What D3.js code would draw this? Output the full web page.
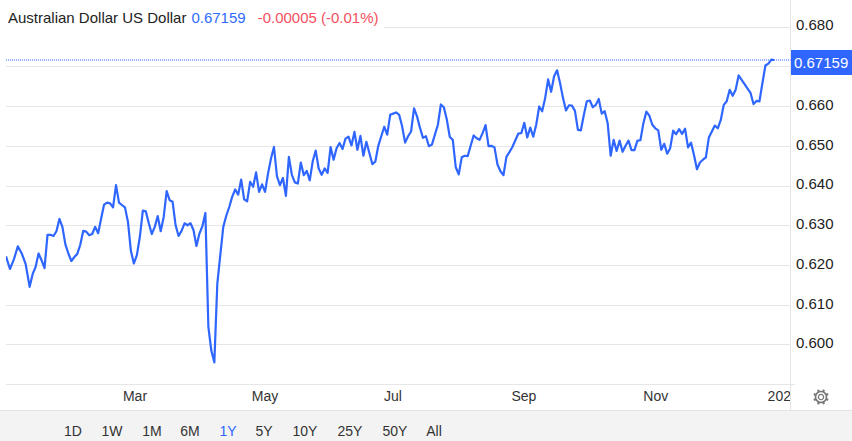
<!DOCTYPE html>
<html><head><meta charset="utf-8">
<script src="https://cdnjs.cloudflare.com/ajax/libs/d3/7.8.5/d3.min.js"></script>
<style>html,body{margin:0;padding:0;background:#fff}svg{display:block}text{font-family:"Liberation Sans",Arial,sans-serif}</style>
</head><body><svg id="c" width="852" height="441"></svg>
<script>
const title = "Australian Dollar US Dollar";
const lastPrice = 0.67159;
const changeText = "-0.00005 (-0.01%)";
const yTicks = [0.60,0.61,0.62,0.63,0.64,0.65,0.66,0.67,0.68];
const yHiddenLabels = [0.67];
const xTickDates = ["2024-03-01","2024-05-01","2024-07-01","2024-09-01","2024-11-01","2025-01-01"];
const xTickLabels = ["Mar","May","Jul","Sep","Nov","2025"];
const ranges = ["1D","1W","1M","6M","1Y","5Y","10Y","25Y","50Y","All"];
const activeRange = "1Y";
const q1 = [.6222,.6190,.6214,.6247,.6229,.6202,.6145,.6177,.6195,.6229,.6212,.6192,.6276,.6276,.6273,.6285,.6316,.6296,.6252,.6229,.6210,.6220,.6228,.6251,.6286,.6284,.6275,.6278,.6296,.6280,.6317,.6352,.6357,.6355,.6345,.6401,.6357,.6351,.6345,.6309,.6235,.6204,.6225,.6271,.6337,.6335,.6305,.6278,.6296,.6323,.6285,.6321,.6386,.6363,.6359,.6300,.6273,.6286,.6305,.6300,.6305,.6288,.6248,.6279,.6298,.6331];
const q2a = [.6044,.5984,.5955,.6153,.6225,.6296,.6324,.6346,.6372,.6390,.6377,.6415,.6365,.6360,.6409,.6397,.6433,.6384,.6403,.6384,.6430,.6468,.6497,.6423,.6401,.6419];
const q2b = [.6374,.6472,.6427,.6408,.6405,.6458,.6426,.6437,.6413,.6461,.6488,.6443,.6427,.6443,.6432,.6497,.6465,.6494,.6507,.6492,.6518,.6523,.6501,.6535,.6490,.6525,.6475,.6510,.6482,.6454,.6460,.6500,.6524,.6548,.6528,.6578,.6581,.6584,.6578,.6549,.6508,.6524,.6536,.6594,.6574,.6545,.6520,.6524,.6499,.6503,.6528,.6553,.6604,.6597,.6566,.6522,.6515,.6446,.6428,.6471,.6475,.6474,.6500,.6526,.6519,.6515,.6532,.6552,.6499,.6500,.6496,.6453,.6436,.6426,.6472,.6484,.6497,.6514,.6531,.6532,.6558,.6521,.6546,.6523,.6553,.6599,.6587,.6620,.6667,.6636,.6675,.6690,.6658,.6620,.6589];
const q3 = [.6602,.6601,.6588,.6540,.6539,.6578,.6612,.6614,.6597,.6603,.6618,.6581,.6587,.6557,.6475,.6515,.6487,.6513,.6485,.6500,.6513,.6489,.6489,.6513,.6514,.6557,.6586,.6576,.6553,.6544,.6539,.6490,.6505,.6480,.6494,.6538,.6529,.6542,.6530,.6543,.6496,.6508,.6477,.6441,.6458,.6465,.6471,.6521,.6536,.6551,.6544,.6565,.6603,.6612,.6641,.6626,.6641,.6677,.6666,.6655,.6644,.6633,.6605,.6613,.6612,.6658,.6702,.6707,.6717,.67159];
const values = q1.concat(q2a, q2b, q3);
// calendar dates of the first session, the January low, the February high, the April low, and section boundaries
const anchorDates = ["2023-12-31T17:00","2024-01-11T19:00","2024-02-21T08:00","2024-04-07T11:00","2024-05-09T19:00","2024-09-20T17:00","2024-12-28T00:00"];

const L=6, R=790.5, B=384.3, W=852;
const parse = d3.utcParse("%Y-%m-%d");
const parseAny = s => new Date(s + ":00Z");
const dates = xTickDates.map(parse);
const x = d3.scaleUtc().domain(dates).range([134.5,264.5,392.4,523.4,655.3,782.7]);
const y = d3.scaleLinear().domain([0.59,0.68]).range([384.2,26.6]);
const anchorIdx = [0, 6, 35, q1.length+2, q1.length+q2a.length-1, q1.length+q2a.length+q2b.length-1, values.length-1];
const sx = d3.scaleLinear().domain(anchorIdx).range(anchorDates.map(s=>x(parseAny(s))));

const svg = d3.select("#c");
const defs = svg.append("defs");
defs.append("clipPath").attr("id","plot").append("rect").attr("x",L).attr("y",0).attr("width",R-L).attr("height",441);

// footer strip
svg.append("rect").attr("x",0).attr("y",410).attr("width",W).attr("height",31).attr("fill","#f3f3f3");
svg.append("line").attr("x1",0).attr("x2",W).attr("y1",410.5).attr("y2",410.5).attr("stroke","#e4e4e4");

// vertical grid + x labels
const labelOf = new Map(dates.map((d,i)=>[+d,xTickLabels[i]]));
const gx = svg.append("g").attr("clip-path","url(#plot)").attr("transform",`translate(0,${B})`)
  .call(d3.axisBottom(x).tickValues(dates).tickSize(-B).tickPadding(7).tickFormat(d=>labelOf.get(+d)));
gx.select(".domain").remove();
gx.selectAll("line").attr("stroke","#edf1f6");
gx.selectAll("text").attr("font-size",14).attr("fill","#333").attr("font-family","Liberation Sans");

// horizontal grid + y labels
const gy = svg.append("g").attr("transform",`translate(${R},0)`)
  .call(d3.axisRight(y).tickValues(yTicks).tickSize(0).tickPadding(5.5).tickFormat(d3.format(".3f")));
gy.select(".domain").remove();
gy.selectAll("text").attr("font-size",15).attr("fill","#222").attr("font-family","Liberation Sans").attr("dy","0.22em")
  .filter(d=>yHiddenLabels.includes(d)).remove();
const hg = svg.append("g");
hg.selectAll("line").data(yTicks.concat([0.59])).join("line")
  .attr("x1",L).attr("x2",R).attr("y1",d=>Math.round(y(d))+.5).attr("y2",d=>Math.round(y(d))+.5).attr("stroke","#e6e6e6");
svg.append("line").attr("x1",R).attr("x2",795).attr("y1",Math.round(y(0.59))+.5).attr("y2",Math.round(y(0.59))+.5).attr("stroke","#e6e6e6");
svg.append("line").attr("x1",R).attr("x2",R).attr("y1",0).attr("y2",410).attr("stroke","#e4e4e4");

// title box
svg.append("rect").attr("x",6).attr("y",3).attr("width",378).attr("height",25).attr("fill","#fff");
const t = svg.append("text").attr("x",8).attr("y",23).attr("font-size",15);
t.append("tspan").attr("fill","#222").text(title);
t.append("tspan").attr("fill","#2f6bff").attr("dx",5).text(lastPrice.toFixed(5));
t.append("tspan").attr("fill","#f4505f").attr("dx",12).text(changeText);

// last price guide
svg.append("line").attr("x1",L).attr("x2",R).attr("y1",60).attr("y2",60)
  .attr("stroke","#2e66ff").attr("stroke-opacity",.5).attr("stroke-width",2).attr("stroke-dasharray","1 1");

// series
const line = d3.line().x((d,i)=>sx(i)).y(d=>y(d));
svg.append("path").datum(values).attr("clip-path","url(#plot)").attr("d",line)
  .attr("fill","none").attr("stroke","#2e66ff").attr("stroke-width",2.2).attr("stroke-linejoin","round");

// price tag
svg.append("rect").attr("x",791).attr("y",50).attr("width",61).attr("height",25).attr("fill","#2e66ff");
svg.append("text").attr("x",794).attr("y",68).attr("font-size",15).attr("fill","#fff").text(lastPrice.toFixed(5));

// range selector
const rangeCenters = [73,112,152,190,228,264,305,350,395,434];
svg.append("g").selectAll("text").data(ranges).join("text")
  .attr("x",(d,i)=>rangeCenters[i]).attr("y",436).attr("text-anchor","middle").attr("font-size",14)
  .attr("fill",d=>d===activeRange?"#2e66ff":"#333").text(d=>d);

// gear icon
const gear = svg.append("g").attr("transform","translate(821,397)").attr("fill","none").attr("stroke","#777");
gear.append("circle").attr("r",2.6).attr("stroke-width",1.3);
gear.append("circle").attr("r",5.5).attr("stroke-width",1.6);
gear.selectAll("line").data(d3.range(8)).join("line")
  .attr("x1",d=>5.5*Math.cos(d*Math.PI/4+.39)).attr("y1",d=>5.5*Math.sin(d*Math.PI/4+.39))
  .attr("x2",d=>7.8*Math.cos(d*Math.PI/4+.39)).attr("y2",d=>7.8*Math.sin(d*Math.PI/4+.39))
  .attr("stroke-width",2.2);
</script></body></html>
